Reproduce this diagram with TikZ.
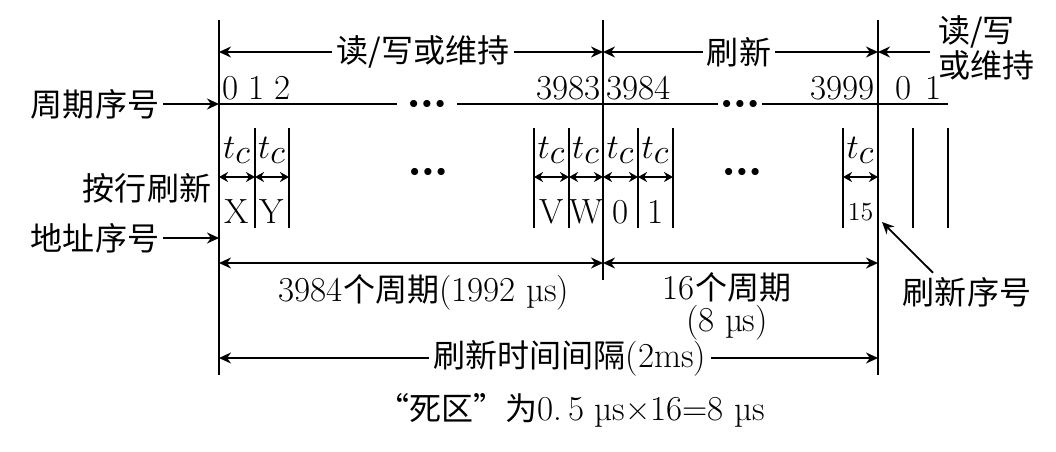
\documentclass[tikz,border=0pt]{standalone}
\usepackage{fontspec}
\usetikzlibrary{arrows.meta}
\newfontfamily\cjk[Scale=0.915]{Noto Sans CJK SC}
\newcommand{\threedots}{{\fontsize{9}{9}\selectfont$\bullet\bullet\bullet$}}

\begin{document}
\begin{tikzpicture}[x=0.5pt,y=-0.5pt,
  every node/.style={font=\fontsize{17.5}{17.5}\selectfont,inner sep=2pt},
  bar/.style={line width=1.3pt},
  cellbar/.style={line width=0.8pt},
  arr/.style={line width=0.9pt,-{Stealth[length=6pt,width=5.5pt]}},
  darr/.style={line width=0.9pt,{Stealth[length=6pt,width=5.5pt]}-{Stealth[length=6pt,width=5.5pt]}},
  cellarr/.style={line width=0.9pt,{Stealth[length=4.5pt,width=5pt]}-{Stealth[length=4.5pt,width=5pt]}}]
\useasboundingbox (0,0) rectangle (1056,451);
% main bars
\coordinate (L0) at (219,20); \coordinate (L1) at (219,375);
\coordinate (M0) at (603,20); \coordinate (M1) at (603,280);
\coordinate (R0) at (878,20); \coordinate (R1) at (878,375);
\draw[bar] (L0) -- (L1);
\draw[bar] (M0) -- (M1);
\draw[bar] (R0) -- (R1);
% phases
\node (rw) at (423,52) {\cjk 读/写或维持};
\draw[arr] (rw.west) -- (rw.west -| L0);
\draw[arr] (rw.east) -- (rw.east -| M0);
\node (rf) at (739,52) {\cjk 刷新};
\draw[arr] (rf.west) -- (rf.west -| M0);
\draw[arr] (rf.east) -- (rf.east -| R0);
\node[align=left,anchor=west,font={\cjk\fontsize{17.5}{15}\selectfont}] (rw2) at (934,48) {读/写\\或维持};
\coordinate (rw2a) at (930,52);
\draw[arr] (rw2a) -- (rw2a -| R0);
% period numbers
\coordinate (c0) at (219,104); \coordinate (cE) at (948,104);
\node[minimum width=30pt,inner sep=0] (d1) at (427,104) {\threedots};
\node[minimum width=22pt,inner sep=0] (d2) at (740,104) {\threedots};
\draw[bar] (c0) -- (d1) -- (d2) -- (cE);
\node[anchor=base west,inner sep=0] (n012) at (222,99) {0\hspace{5pt}1\hspace{5pt}2};
\node[anchor=base east,inner sep=0] (n3983) at (601,99) {3983};
\node[anchor=base west,inner sep=0] (n3984) at (606,99) {3984};
\node[anchor=base east,inner sep=0] (n3999) at (875,99) {3999};
\node[anchor=base west,inner sep=0] (n01) at (895,99) {0\hspace{7pt}1};
% row refresh cells
\foreach \x in {255,289,534,569,638,673,843,913,948}
  \draw[cellbar] (\x,128) -- (\x,228);
\foreach \a/\b/\lab [count=\i] in {219/255/X,255/289/Y,534/569/V,569/603/W,603/638/0,638/673/1,843/878/{\fontsize{13}{13}\selectfont 15}} {
  \node[font=\fontsize{16}{16}\selectfont] (tc\i) at ({(\a+\b)/2},150) {$t_{\textstyle c}$};
  \draw[cellarr] (\a,177) -- (\b,177);
  \node (ad\i) at ({(\a+\b)/2},212) {\lab};
}
\node (e1) at (428,172) {\threedots};
\node (e2) at (742,172) {\threedots};
% side labels
\node (lbA) at (95,104) {\cjk 周期序号};
\draw[arr] (lbA.east) -- (lbA.east -| L0);
\node (lbB) at (147,188) {\cjk 按行刷新};
\node (lbC) at (95,238) {\cjk 地址序号};
\draw[arr] (lbC.east) -- (lbC.east -| L0);
\node (lbR) at (967,292) {\cjk 刷新序号};
\coordinate (rs) at (882,222);
\draw[arr] ([xshift=-17pt]lbR.north) -- (rs);
% intervals
\coordinate (b1) at (219,263); \coordinate (b2) at (603,263); \coordinate (b3) at (878,263);
\draw[darr] (b1) -- (b2);
\draw[darr] (b2) -- (b3);
\node (p1) at (424,292) {3984{\cjk 个周期}(1992 µs)};
\node[align=center,font=\fontsize{17.5}{16}\selectfont] (p2) at (727,306) {16{\cjk 个周期}\\(8 µs)};
\node (tot) at (570,358) {{\cjk 刷新时间间隔}(2ms)};
\draw[arr] (tot.west) -- (tot.west -| L1);
\draw[arr] (tot.east) -- (tot.east -| R1);
\node (dz) at (571,410) {{\cjk “死区”为}0.\,5 µs×16=8 µs};
\end{tikzpicture}
\end{document}
